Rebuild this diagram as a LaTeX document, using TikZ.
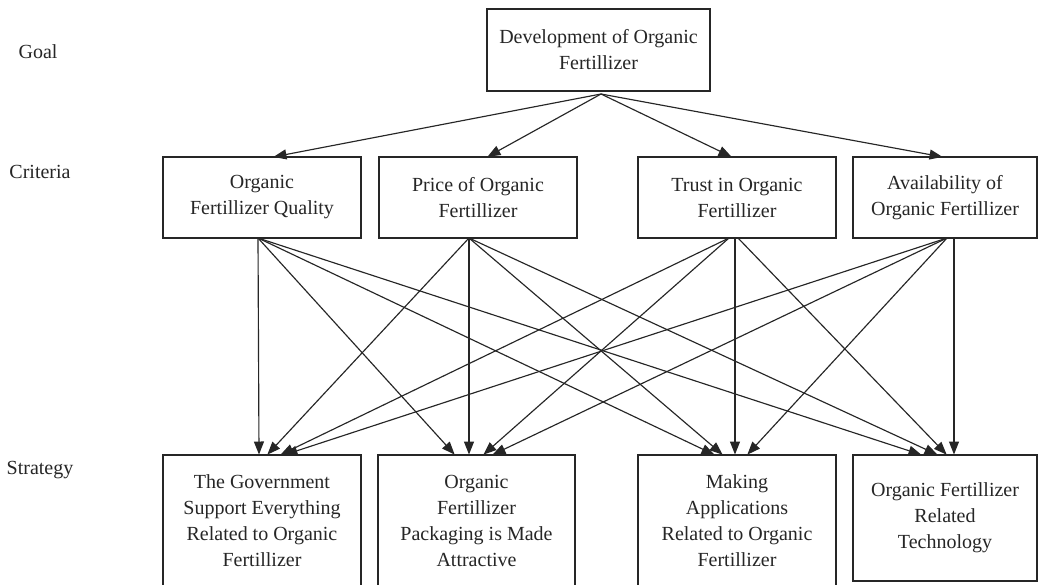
\documentclass[tikz,border=0pt]{standalone}
\usepackage{fontspec}
\setmainfont{Liberation Serif}
\usetikzlibrary{arrows.meta}
\begin{document}
\begin{tikzpicture}[x=1pt,y=-1pt,
  box/.style={draw=black!85, line width=1.3pt, outer sep=0pt, inner sep=2pt, align=center,
    font=\fontsize{20}{26}\selectfont, text=black!85},
  lvl/.style={font=\fontsize{20}{26}\selectfont, text=black!85, inner sep=0pt},
  arr/.style={draw=black!85, line width=1.15pt, -{Triangle[length=13pt,width=10pt]}, shorten >=0.5pt}]
\useasboundingbox (0,0) rectangle (1040,584);
\fill[white] (0,0) rectangle (1040,584);

% level labels
\node[lvl] (lg) at (38,52) {Goal};
\node[lvl] (lc) at (40,172) {Criteria};
\node[lvl] (ls) at (40,470) {Strategy};

% goal
\node[box, minimum width=223, minimum height=82] (g) at (598.5,50) {Development of Organic\\Fertillizer};

% criteria
\node[box, minimum width=198, minimum height=81] (c1) at (262,197.5) {Organic\\Fertillizer Quality};
\node[box, minimum width=198, minimum height=81] (c2) at (478,197.5) {Price of Organic\\Fertillizer};
\node[box, minimum width=198, minimum height=81] (c3) at (737,197.5) {Trust in Organic\\Fertillizer};
\node[box, minimum width=184, minimum height=81] (c4) at (945,197.5) {Availability of\\Organic Fertillizer};

% strategies
\node[box, minimum width=198, minimum height=132] (s1) at (262,521) {The Government\\Support Everything\\Related to Organic\\Fertillizer};
\node[box, minimum width=197, minimum height=132] (s2) at (476.5,521) {Organic\\Fertillizer\\Packaging is Made\\Attractive};
\node[box, minimum width=198, minimum height=132] (s3) at (737,521) {Making\\Applications\\Related to Organic\\Fertillizer};
\node[box, minimum width=184, minimum height=126] (s4) at (945,518) {Organic Fertillizer\\Related\\Technology};

% goal -> criteria
\draw[arr] ([xshift=2.5pt,yshift=-3pt]g.south) -- ([xshift=11pt]c1.north);
\draw[arr] ([xshift=2.5pt,yshift=-3pt]g.south) -- ([xshift=9pt]c2.north);
\draw[arr] ([xshift=2.5pt,yshift=-3pt]g.south) -- ([xshift=-5pt]c3.north);
\draw[arr] ([xshift=2.5pt,yshift=-3pt]g.south) -- ([xshift=-2pt]c4.north);

% quality -> strategies
\draw[arr] ([xshift=-4pt]c1.south) -- ([xshift=-3pt]s1.north);
\draw[arr] ([xshift=-4pt]c1.south) -- ([xshift=-21.5pt]s2.north);
\draw[arr] ([xshift=-4pt]c1.south) -- ([xshift=-22pt]s3.north);
\draw[arr] ([xshift=-4pt]c1.south) -- ([xshift=-23pt]s4.north);

% price -> strategies
\draw[arr] ([xshift=-9pt]c2.south) -- ([xshift=5pt]s1.north);
\draw[arr] ([xshift=-9pt]c2.south) -- ([xshift=-7.5pt]s2.north);
\draw[arr] ([xshift=-9pt]c2.south) -- ([xshift=-14pt]s3.north);
\draw[arr] ([xshift=-9pt]c2.south) -- ([xshift=-7pt]s4.north);

% trust -> strategies
\draw[arr] ([xshift=-8pt]c3.south) -- ([xshift=18pt]s1.north);
\draw[arr] ([xshift=-8pt]c3.south) -- ([xshift=6.5pt]s2.north);
\draw[arr] ([xshift=-2pt]c3.south) -- ([xshift=-2pt]s3.north);
\draw[arr] ([xshift=1pt]c3.south) -- ([xshift=2pt]s4.north);

% availability -> strategies
\draw[arr] ([xshift=2pt]c4.south) -- ([xshift=22pt]s1.north);
\draw[arr] ([xshift=2pt]c4.south) -- ([xshift=15.5pt]s2.north);
\draw[arr] ([xshift=2pt]c4.south) -- ([xshift=10pt]s3.north);
\draw[arr] ([xshift=9pt]c4.south) -- ([xshift=9pt]s4.north);
\end{tikzpicture}
\end{document}
